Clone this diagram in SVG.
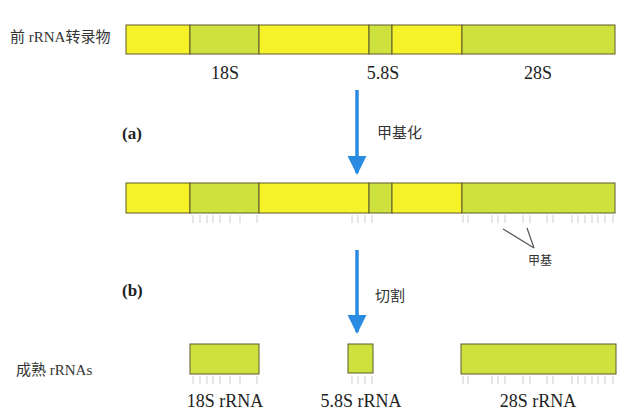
<svg xmlns="http://www.w3.org/2000/svg" width="636" height="416" viewBox="0 0 636 416">
<defs>
<style>
.y{fill:#f6f22a;stroke:#5e5a2a;stroke-width:1}
.g{fill:#cde23e;stroke:#5e5a2a;stroke-width:1}
.lbl{font-family:"Liberation Serif","Noto Sans CJK SC",serif;font-size:18px;fill:#222;text-anchor:middle}
.cjk{font-family:"Liberation Serif","Noto Sans CJK SC",serif;font-size:15px;fill:#333}
.bold{font-family:"Liberation Serif",serif;font-size:17px;font-weight:bold;fill:#222}
.tick{stroke:#cfcfcf;stroke-width:1}
.arr{stroke:#2b8be0;stroke-width:3.5;fill:none}
.ptr{stroke:#555;stroke-width:1.2;fill:none}
</style>
<marker id="ah" viewBox="0 0 10 10" refX="9" refY="5" markerWidth="5.5" markerHeight="5.5" orient="auto" markerUnits="strokeWidth">
<path d="M0,0 L10,5 L0,10 Z" fill="#2b8be0"/>
</marker>
<g id="ticks18">
<line x1="193" y1="0" x2="193" y2="8"/><line x1="200" y1="0" x2="200" y2="8"/><line x1="207" y1="0" x2="207" y2="8"/><line x1="213" y1="0" x2="213" y2="8"/><line x1="220" y1="0" x2="220" y2="8"/><line x1="230" y1="0" x2="230" y2="8"/><line x1="240" y1="0" x2="240" y2="8"/><line x1="257" y1="0" x2="257" y2="8"/>
</g>
<g id="ticks58">
<line x1="352" y1="0" x2="352" y2="8"/><line x1="358" y1="0" x2="358" y2="8"/><line x1="365" y1="0" x2="365" y2="8"/><line x1="372" y1="0" x2="372" y2="8"/>
</g>
<g id="ticks28">
<line x1="463" y1="0" x2="463" y2="8"/><line x1="468" y1="0" x2="468" y2="8"/><line x1="492" y1="0" x2="492" y2="8"/><line x1="498" y1="0" x2="498" y2="8"/><line x1="505" y1="0" x2="505" y2="8"/><line x1="523" y1="0" x2="523" y2="8"/><line x1="530" y1="0" x2="530" y2="8"/><line x1="547" y1="0" x2="547" y2="8"/><line x1="553" y1="0" x2="553" y2="8"/><line x1="572" y1="0" x2="572" y2="8"/><line x1="578" y1="0" x2="578" y2="8"/><line x1="585" y1="0" x2="585" y2="8"/><line x1="592" y1="0" x2="592" y2="8"/><line x1="598" y1="0" x2="598" y2="8"/><line x1="605" y1="0" x2="605" y2="8"/><line x1="613" y1="0" x2="613" y2="8"/>
</g>
</defs>
<rect width="636" height="416" fill="#ffffff"/>

<g id="label-pre">
<text class="cjk" x="10" y="42">前 rRNA转录物</text>
</g>

<g id="precursor">
<rect class="y" x="126" y="25" width="64" height="29"/>
<rect class="g" x="190" y="25" width="69" height="29"/>
<rect class="y" x="259" y="25" width="110" height="29"/>
<rect class="g" x="369" y="25" width="23" height="29"/>
<rect class="y" x="392" y="25" width="70" height="29"/>
<rect class="g" x="462" y="25" width="153" height="29"/>
<text class="lbl" x="225" y="79">18S</text>
<text class="lbl" x="383" y="79">5.8S</text>
<text class="lbl" x="538" y="79">28S</text>
</g>

<g id="step-a">
<text class="bold" x="122" y="139">(a)</text>
<text class="cjk" x="377" y="138">甲基化</text>
</g>

<g id="methylated">
<rect class="y" x="126" y="183" width="64" height="30"/>
<rect class="g" x="190" y="183" width="69" height="30"/>
<rect class="y" x="259" y="183" width="110" height="30"/>
<rect class="g" x="369" y="183" width="23" height="30"/>
<rect class="y" x="392" y="183" width="70" height="30"/>
<rect class="g" x="462" y="183" width="153" height="30"/>
<g class="tick" transform="translate(0,215)">
<use href="#ticks18"/><use href="#ticks58"/><use href="#ticks28"/>
</g>
</g>

<g id="methyl-label">
<text class="cjk" x="528" y="265" style="font-size:12px">甲基</text>
</g>

<g id="step-b">
<text class="bold" x="122" y="296">(b)</text>
<text class="cjk" x="375" y="301">切割</text>
</g>

<g id="label-mature">
<text class="cjk" x="16" y="375">成熟 rRNAs</text>
</g>

<g id="mature-18S">
<rect class="g" x="190" y="344" width="69" height="30"/>
<g class="tick" transform="translate(0,376)"><use href="#ticks18"/></g>
<text class="lbl" x="225" y="407">18S rRNA</text>
</g>
<g id="mature-5.8S">
<rect class="g" x="348" y="344" width="25" height="29"/>
<g class="tick" transform="translate(0,376)"><use href="#ticks58"/></g>
<text class="lbl" x="361" y="407">5.8S rRNA</text>
</g>
<g id="mature-28S">
<rect class="g" x="461" y="344" width="155" height="30"/>
<g class="tick" transform="translate(0,376)"><use href="#ticks28"/></g>
<text class="lbl" x="538" y="407">28S rRNA</text>
</g>

<g id="connectors">
<line class="arr" x1="357" y1="90" x2="357" y2="173" marker-end="url(#ah)"/>
<line class="arr" x1="357" y1="250" x2="357" y2="332" marker-end="url(#ah)"/>
<line class="ptr" x1="503" y1="229" x2="534" y2="248"/>
<line class="ptr" x1="527" y1="228" x2="534" y2="248"/>
</g>
</svg>
